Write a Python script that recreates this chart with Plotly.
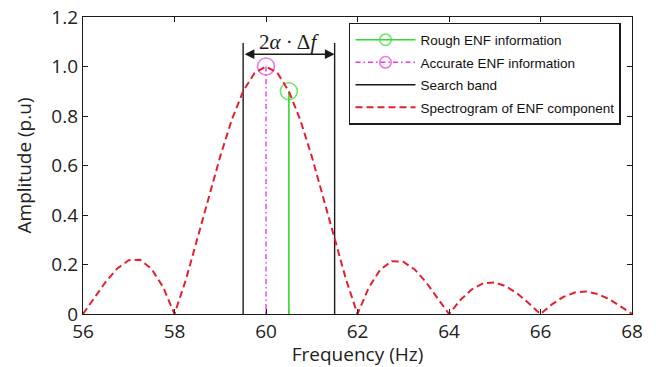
import plotly.graph_objects as go

# Spectrogram of ENF component
freq = [56.00, 56.25, 56.50, 56.75, 57.00, 57.25, 57.50, 57.75,
        58.00, 58.25, 58.50, 58.75, 59.00, 59.25, 59.50, 59.75,
        60.00, 60.25, 60.50, 60.75, 61.00, 61.25, 61.50, 61.75,
        62.00, 62.25, 62.50, 62.75, 63.00, 63.25, 63.50, 63.75,
        64.00, 64.25, 64.50, 64.75, 65.00, 65.25, 65.50, 65.75,
        66.00, 66.25, 66.50, 66.75, 67.00, 67.25, 67.50, 67.75, 68.00]
amplitude = [0.000, 0.066, 0.131, 0.184, 0.217, 0.219, 0.182, 0.109,
             0.000, 0.139, 0.300, 0.471, 0.637, 0.784, 0.900, 0.974,
             1.000, 0.974, 0.900, 0.784, 0.637, 0.471, 0.300, 0.139,
             0.000, 0.108, 0.180, 0.213, 0.211, 0.180, 0.128, 0.065,
             0.000, 0.057, 0.100, 0.124, 0.127, 0.112, 0.082, 0.042,
             0.000, 0.039, 0.069, 0.087, 0.091, 0.081, 0.060, 0.031, 0.000]

rough_freq, rough_amp = 60.5, 0.90
accurate_freq, accurate_amp = 60.0, 1.00
search_band = [59.5, 61.5]
band_top = 1.095
arrow_level = 1.05
label_level = 1.10

x_ticks = [56, 58, 60, 62, 64, 66, 68]
y_ticks = [0, 0.2, 0.4, 0.6, 0.8, 1.0, 1.2]
y_tick_text = ["0", "0.2", "0.4", "0.6", "0.8", "1.0", "1.2"]

names = ["Rough ENF information", "Accurate ENF information",
         "Search band", "Spectrogram of ENF component"]

GREEN = "#2fdc2f"
MAGENTA = "#e63ce6"
RED = "#e3202e"
INK = "#1a1a1a"

fig = go.Figure()

# stems: circle at the top, a short tick at the base (hidden by the axis)
fig.add_trace(go.Scatter(
    x=[rough_freq, rough_freq], y=[rough_amp, 0], mode="lines+markers",
    name=names[0], legendgroup="a",
    line=dict(color=GREEN, width=1.6),
    marker=dict(symbol=["circle-open", "line-ns-open"], size=[17, 6],
                color=GREEN, line=dict(width=1.6, color=GREEN)),
))
fig.add_trace(go.Scatter(
    x=[accurate_freq, accurate_freq], y=[accurate_amp, 0], mode="lines+markers",
    name=names[1], legendgroup="b",
    line=dict(color=MAGENTA, width=1.4, dash="5px,3px,1.5px,3px"),
    marker=dict(symbol=["circle-open", "line-ns-open"], size=[17, 6],
                color=MAGENTA, line=dict(width=1.6, color=MAGENTA)),
))
bx, by = [], []
for f in search_band:
    bx += [f, f, None]
    by += [0, band_top, None]
fig.add_trace(go.Scatter(
    x=bx, y=by, mode="lines", name=names[2], legendgroup="c",
    line=dict(color=INK, width=1.4),
))
fig.add_trace(go.Scatter(
    x=freq, y=amplitude, mode="lines", name=names[3], legendgroup="d",
    line=dict(color=RED, width=2, dash="7px,4px"),
))

# double-headed arrow for the search band width
fig.add_annotation(
    x=search_band[1], y=arrow_level, ax=search_band[0], ay=arrow_level,
    xref="x", yref="y", axref="x", ayref="y", text="",
    showarrow=True, arrowhead=2, arrowside="end+start",
    arrowsize=1.3, arrowwidth=1.5, arrowcolor=INK,
)
fig.add_annotation(
    x=sum(search_band) / 2, y=label_level, xref="x", yref="y",
    text="2<i>α</i> · Δ<i>f</i>", showarrow=False,
    font=dict(family="Liberation Serif", size=21, color=INK),
    yanchor="middle", xanchor="center", bgcolor="rgba(0,0,0,0)",
)

axis_font = dict(family="Open Sans", size=19, color="#222")
fig.update_xaxes(
    range=[56, 68], tickvals=x_ticks, ticks="inside", ticklen=5,
    tickcolor=INK, showline=True, linecolor=INK, linewidth=1.3,
    mirror="ticks", showgrid=False, zeroline=False, tickfont=axis_font,
    automargin=False,
    title=dict(text="Frequency (Hz)", font=axis_font, standoff=0),
)
fig.update_yaxes(
    range=[0, 1.2], tickvals=y_ticks, ticktext=y_tick_text, ticks="inside",
    ticklen=5, tickcolor=INK, showline=True, linecolor=INK, linewidth=1.3,
    mirror="ticks", showgrid=False, zeroline=False, tickfont=axis_font,
    automargin=False,
    title=dict(text="Amplitude (p.u)", font=axis_font, standoff=14),
)

fig.update_layout(
    width=656, height=367,
    margin=dict(l=83, r=24, t=17, b=53),
    plot_bgcolor="white", paper_bgcolor="white",
    legend=dict(
        x=0.4845, y=0.98, xanchor="left", yanchor="top",
        bordercolor=INK, borderwidth=1.5, bgcolor="white",
        font=dict(family="Liberation Sans", size=13.5, color="#111"),
        tracegroupgap=2, itemwidth=60,
    ),
)

fig.write_html("out.html", config={"displayModeBar": False},
               post_script="document.body.style.margin='0';")
